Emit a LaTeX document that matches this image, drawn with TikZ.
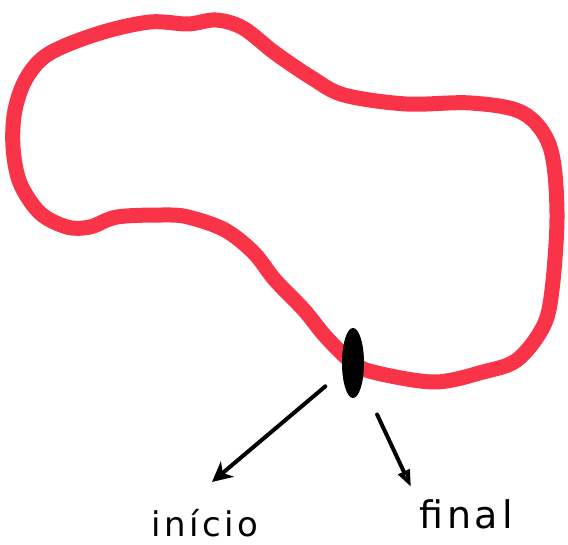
\documentclass[tikz,border=0pt]{standalone}
\usepackage{fontspec}
\setsansfont{DejaVu Sans}
\usetikzlibrary{arrows.meta,shapes.geometric}
\definecolor{pistared}{RGB}{250,52,72}

\begin{document}
\begin{tikzpicture}[x=1pt,y=-1pt,line cap=round,line join=round,
  rotulo/.style={font=\sffamily\addfontfeatures{LetterSpace=10}\fontsize{34}{34}\selectfont,anchor=base,inner sep=0pt},
  seta/.style={line width=4pt}]
\useasboundingbox (0,0) rectangle (568,545);
% pista
\draw[pistared,line width=15pt] plot[smooth cycle,tension=0.55] coordinates {
  (15,110) (27,77) (50,53) (100,33) (150,22) (188,24) (216,20) (243,28) (275,53)
  (312,78) (344,95) (406,104) (471,103) (523,113) (550,147) (557,213) (552,290)
  (543,327) (517,360) (483,372) (435,382) (377,373) (353,363) (326,337) (304,310)
  (275,280) (254,253) (225,230) (188,217) (163,215) (117,217) (90,227) (67,227)
  (40,213) (20,183) (13,147)};
\node[ellipse,fill=black,minimum width=22pt,minimum height=70pt,inner sep=0pt] (marca) at (353,363) {};
\node[rotulo] (inicio) at (205,536) {início};
\node[rotulo,font=\sffamily\addfontfeatures{LetterSpace=10}\fontsize{38}{38}\selectfont] (final) at (466,528) {final};
\coordinate (fimA) at (212,482); \coordinate (fimB) at (411,487);
\draw[seta,-{Stealth[length=20pt,width=20pt,inset=6pt]},shorten <=22pt] (marca) -- (fimA);
\draw[seta,-{Triangle[open,length=17pt,width=12pt]},shorten <=35pt] (marca) -- (fimB);
\end{tikzpicture}
\end{document}
